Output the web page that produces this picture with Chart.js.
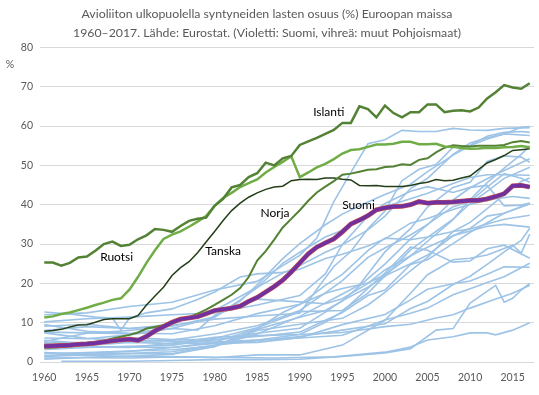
<!DOCTYPE html>
<html>
<head>
<meta charset="utf-8">
<script src="https://cdn.jsdelivr.net/npm/chart.js@4"></script>
<style>
  html, body { margin: 0; padding: 0; background: #fff; }
  #chart { display: block; }
</style>
</head>
<body>
<canvas id="chart" width="539" height="395"></canvas>
<script>
// yearly categories and x tick labels
const years = [1960, 1961, 1962, 1963, 1964, 1965, 1966, 1967, 1968, 1969,
  1970, 1971, 1972, 1973, 1974, 1975, 1976, 1977, 1978, 1979,
  1980, 1981, 1982, 1983, 1984, 1985, 1986, 1987, 1988, 1989,
  1990, 1991, 1992, 1993, 1994, 1995, 1996, 1997, 1998, 1999,
  2000, 2001, 2002, 2003, 2004, 2005, 2006, 2007, 2008, 2009,
  2010, 2011, 2012, 2013, 2014, 2015, 2016, 2017];
const tickYears = [1960, 1965, 1970, 1975, 1980, 1985, 1990, 1995, 2000, 2005, 2010, 2015];

// Nordic countries, one value per year 1960-2017 (%)
const islanti = [25.3, 25.3, 24.5, 25.2, 26.6, 26.8, 28.3, 30.0, 30.6, 29.5,
  29.8, 31.2, 32.2, 33.8, 33.6, 33.1, 34.6, 35.9, 36.4, 36.7,
  39.7, 41.5, 44.4, 45.0, 47.0, 48.0, 50.7, 50.0, 51.8, 52.4,
  55.2, 56.1, 57.0, 58.0, 59.0, 60.8, 60.8, 65.0, 64.3, 62.2,
  65.2, 63.3, 62.2, 63.5, 63.5, 65.5, 65.5, 63.5, 63.9, 64.0,
  63.7, 64.7, 67.0, 68.6, 70.4, 69.8, 69.5, 70.9];
const ruotsi = [11.3, 11.6, 12.2, 12.6, 13.2, 13.8, 14.5, 15.1, 15.8, 16.2,
  18.4, 21.6, 25.2, 28.4, 31.3, 32.4, 33.2, 34.4, 35.7, 37.1,
  39.7, 41.7, 43.0, 44.5, 45.5, 46.4, 48.2, 49.6, 50.9, 52.3,
  47.0, 48.2, 49.5, 50.4, 51.6, 53.0, 53.9, 54.1, 54.7, 55.3,
  55.3, 55.5, 56.0, 56.0, 55.4, 55.4, 55.5, 54.8, 54.7, 54.4,
  54.2, 54.3, 54.5, 54.4, 54.6, 54.7, 54.9, 54.6];
const tanska = [7.8, 8.0, 8.3, 8.9, 9.4, 9.5, 10.1, 10.8, 11.0, 11.0,
  11.0, 11.8, 14.5, 16.8, 19.0, 22.0, 24.0, 25.5, 27.8, 30.5,
  33.2, 36.0, 38.5, 40.4, 41.9, 43.0, 43.9, 44.5, 44.7, 46.1,
  46.4, 46.5, 46.4, 46.8, 46.8, 46.5, 46.3, 44.9, 44.8, 44.9,
  44.6, 44.6, 44.6, 44.9, 45.4, 45.7, 46.4, 46.1, 46.2, 46.8,
  47.3, 49.0, 50.6, 51.5, 52.5, 53.8, 54.0, 54.2];
const norja = [3.7, 3.7, 3.8, 4.0, 4.1, 4.6, 5.0, 5.4, 6.0, 6.4,
  6.9, 7.5, 8.5, 8.9, 9.4, 10.3, 11.0, 11.4, 12.3, 13.3,
  14.5, 15.8, 17.1, 18.8, 21.6, 25.8, 28.2, 31.1, 34.2, 36.4,
  38.6, 41.0, 43.1, 44.6, 46.0, 47.6, 47.9, 48.4, 48.9, 49.0,
  49.6, 49.7, 50.3, 50.1, 51.4, 51.8, 53.3, 54.5, 55.1, 54.9,
  54.8, 55.0, 55.0, 55.0, 55.2, 55.9, 56.2, 55.8];
const suomi = [4.0, 4.1, 4.2, 4.3, 4.5, 4.6, 4.8, 5.1, 5.4, 5.6,
  5.8, 5.5, 6.5, 7.9, 9.0, 10.1, 10.9, 11.2, 11.5, 12.3,
  13.1, 13.4, 13.7, 14.2, 15.4, 16.4, 17.8, 19.2, 20.8, 22.9,
  25.2, 27.5, 29.2, 30.3, 31.3, 33.1, 35.1, 36.1, 37.2, 38.7,
  39.2, 39.5, 39.6, 40.0, 40.8, 40.4, 40.6, 40.6, 40.7, 40.9,
  41.1, 41.1, 41.5, 42.1, 42.8, 44.8, 44.9, 44.5];

// other European countries, [year, %]
const france = [[1960, 6.1], [1965, 5.9], [1970, 6.9], [1975, 8.5], [1980, 11.4], [1983, 15.5], [1985, 19.6], [1988, 26.3], [1990, 30.1], [1993, 34.9], [1995, 37.6], [1998, 40.7], [2000, 42.6], [2003, 45.2], [2005, 48.4], [2008, 52.6], [2010, 55.0], [2012, 56.7], [2014, 58.0], [2016, 59.7], [2017, 59.9]];
const estonia = [[1960, 12.0], [1965, 12.5], [1970, 14.1], [1975, 15.2], [1980, 18.3], [1985, 20.5], [1988, 24.5], [1990, 27.1], [1992, 31.5], [1994, 40.8], [1996, 48.2], [1998, 55.5], [2000, 56.5], [2002, 58.9], [2004, 58.6], [2006, 58.6], [2008, 59.4], [2010, 59.0], [2012, 58.9], [2014, 59.4], [2017, 59.6]];
const bulgaria = [[1960, 8.0], [1965, 9.0], [1970, 8.5], [1975, 9.3], [1980, 10.9], [1985, 11.7], [1990, 12.4], [1992, 18.5], [1994, 24.3], [1996, 28.1], [1998, 33.9], [2000, 38.4], [2002, 46.1], [2004, 49.0], [2006, 50.2], [2008, 54.6], [2010, 55.1], [2012, 57.4], [2014, 58.4], [2016, 58.6], [2017, 58.4]];
const slovenia = [[1960, 9.1], [1965, 9.6], [1970, 8.5], [1975, 9.5], [1978, 12.2], [1980, 13.1], [1985, 19.0], [1988, 22.6], [1990, 24.5], [1993, 27.9], [1995, 29.8], [1998, 33.6], [2000, 37.1], [2003, 44.1], [2005, 46.7], [2008, 52.8], [2010, 55.7], [2012, 57.0], [2014, 58.0], [2017, 57.6]];
const portugal = [[1960, 9.5], [1965, 7.8], [1970, 7.3], [1975, 7.2], [1980, 9.2], [1985, 12.3], [1990, 14.7], [1993, 17.5], [1995, 18.7], [1998, 20.1], [2000, 22.2], [2003, 26.9], [2005, 30.7], [2008, 36.2], [2010, 41.3], [2012, 45.6], [2014, 49.3], [2016, 52.8], [2017, 54.9]];
const netherlands = [[1960, 1.4], [1965, 1.8], [1970, 2.1], [1975, 2.1], [1980, 4.1], [1985, 8.3], [1990, 11.4], [1993, 13.1], [1995, 15.5], [1998, 21.2], [2000, 24.9], [2003, 31.3], [2005, 34.9], [2008, 41.2], [2010, 44.3], [2012, 46.6], [2014, 48.7], [2017, 51.7]];
const belgium = [[1960, 2.1], [1965, 2.4], [1970, 2.8], [1975, 3.1], [1980, 4.1], [1985, 7.1], [1990, 11.6], [1995, 17.3], [1997, 19.6], [2000, 28.0], [2003, 33.9], [2005, 39.4], [2008, 44.4], [2010, 45.7], [2012, 51.0], [2014, 52.4], [2016, 52.1], [2017, 50.8]];
const uk = [[1960, 5.2], [1965, 7.3], [1970, 8.0], [1975, 9.1], [1980, 11.5], [1983, 15.8], [1985, 18.9], [1988, 25.1], [1990, 27.9], [1993, 31.8], [1995, 33.5], [1998, 37.6], [2000, 39.5], [2003, 41.5], [2005, 42.9], [2008, 45.4], [2010, 46.9], [2012, 47.6], [2014, 47.6], [2017, 47.5]];
const czech = [[1960, 4.9], [1965, 4.9], [1970, 5.4], [1975, 4.5], [1980, 5.6], [1985, 7.3], [1990, 8.6], [1993, 12.7], [1995, 15.6], [1998, 19.0], [2000, 21.8], [2003, 28.5], [2005, 31.7], [2008, 36.3], [2010, 40.3], [2012, 43.4], [2014, 46.7], [2017, 49.5]];
const hungary = [[1960, 5.5], [1965, 4.7], [1970, 5.4], [1975, 5.6], [1980, 7.1], [1985, 9.2], [1990, 13.1], [1993, 17.6], [1995, 20.7], [1998, 26.6], [2000, 29.0], [2003, 32.3], [2005, 35.0], [2008, 39.5], [2010, 40.8], [2012, 44.5], [2014, 47.9], [2016, 46.7], [2017, 45.7]];
const spain = [[1960, 2.3], [1965, 1.7], [1970, 1.4], [1975, 2.0], [1980, 3.9], [1985, 8.0], [1990, 9.6], [1995, 11.1], [1998, 14.5], [2000, 17.7], [2003, 23.2], [2005, 26.6], [2008, 33.2], [2010, 35.5], [2012, 39.0], [2014, 42.5], [2016, 45.9], [2017, 46.8]];
const latvia = [[1960, 10.2], [1965, 11.0], [1970, 11.4], [1975, 12.0], [1980, 12.5], [1985, 14.5], [1990, 16.9], [1993, 22.4], [1995, 29.9], [1998, 37.1], [2000, 40.3], [2003, 43.4], [2005, 44.6], [2008, 43.1], [2010, 44.4], [2012, 44.9], [2014, 39.7], [2016, 39.9], [2017, 40.4]];
const austria = [[1960, 12.7], [1963, 12.2], [1966, 11.4], [1968, 11.2], [1969, 8.1], [1970, 11.2], [1972, 12.5], [1975, 13.5], [1978, 15.9], [1980, 17.8], [1983, 21.6], [1985, 22.4], [1988, 22.8], [1990, 23.6], [1993, 26.3], [1995, 27.4], [1998, 29.5], [2000, 31.3], [2003, 35.3], [2005, 36.5], [2008, 38.8], [2010, 40.1], [2013, 41.5], [2015, 42.1], [2017, 41.6]];
const germany = [[1960, 7.6], [1965, 7.4], [1970, 7.2], [1972, 7.9], [1975, 8.5], [1978, 8.1], [1980, 11.9], [1985, 16.0], [1990, 15.3], [1993, 14.8], [1995, 16.1], [1998, 20.0], [2000, 23.4], [2003, 27.0], [2005, 29.2], [2008, 32.1], [2010, 33.3], [2012, 34.5], [2014, 35.0], [2017, 34.3]];
const ireland = [[1960, 1.6], [1965, 2.2], [1970, 2.7], [1975, 3.7], [1980, 5.0], [1985, 8.5], [1988, 12.6], [1990, 14.6], [1993, 19.5], [1995, 22.3], [1998, 28.3], [2000, 31.5], [2003, 31.1], [2005, 31.8], [2008, 33.2], [2010, 33.8], [2012, 35.1], [2014, 36.3], [2017, 37.3]];
const luxembourg = [[1960, 3.2], [1965, 3.7], [1970, 4.0], [1975, 4.2], [1980, 6.0], [1985, 8.7], [1990, 12.8], [1995, 13.1], [1998, 17.5], [2000, 21.9], [2003, 25.0], [2005, 27.2], [2008, 32.1], [2010, 34.0], [2012, 37.1], [2014, 37.8], [2017, 40.4]];
const slovakia = [[1960, 4.7], [1965, 5.0], [1970, 6.2], [1975, 5.7], [1980, 5.7], [1985, 6.5], [1990, 7.6], [1993, 10.6], [1995, 12.6], [1998, 16.9], [2000, 18.3], [2003, 24.8], [2005, 26.0], [2008, 30.1], [2010, 33.0], [2012, 35.4], [2014, 37.8], [2017, 40.2]];
const italy = [[1960, 2.4], [1965, 2.0], [1970, 2.2], [1975, 2.6], [1980, 4.3], [1985, 5.4], [1990, 6.5], [1995, 8.1], [2000, 9.7], [2003, 13.6], [2005, 15.4], [2008, 19.7], [2010, 21.8], [2012, 24.8], [2014, 28.0], [2016, 30.9], [2017, 34.0]];
const poland = [[1960, 4.5], [1965, 4.2], [1970, 5.0], [1975, 4.7], [1980, 4.8], [1985, 5.0], [1990, 6.2], [1995, 9.5], [2000, 12.1], [2003, 15.8], [2005, 18.5], [2008, 19.9], [2010, 20.6], [2012, 22.3], [2014, 24.2], [2017, 24.1]];
const malta = [[1960, 0.7], [1965, 1.2], [1970, 1.5], [1975, 1.4], [1980, 1.1], [1985, 1.8], [1990, 1.8], [1995, 4.3], [2000, 10.6], [2003, 17.5], [2005, 22.2], [2008, 26.0], [2010, 26.4], [2012, 27.2], [2015, 29.7], [2016, 27.7], [2017, 32.5]];
const lithuania = [[1960, 4.0], [1965, 3.8], [1970, 3.7], [1975, 4.8], [1980, 6.3], [1985, 6.7], [1990, 7.0], [1993, 10.1], [1995, 12.8], [1998, 18.7], [2000, 22.6], [2003, 29.2], [2005, 28.4], [2008, 25.4], [2010, 25.7], [2012, 28.8], [2014, 29.7], [2017, 26.4]];
const switzerland = [[1960, 3.8], [1965, 3.9], [1970, 3.8], [1975, 3.7], [1980, 4.7], [1985, 5.6], [1990, 6.1], [1995, 6.8], [2000, 10.7], [2003, 12.4], [2005, 13.7], [2008, 17.1], [2010, 18.6], [2012, 20.2], [2014, 21.7], [2017, 25.1]];
const croatia = [[1960, 7.4], [1965, 6.0], [1970, 5.4], [1975, 5.3], [1980, 5.1], [1985, 5.6], [1990, 7.0], [1995, 7.5], [2000, 9.0], [2003, 9.6], [2006, 11.2], [2008, 12.0], [2010, 13.7], [2013, 16.0], [2015, 17.5], [2017, 19.5]];
const cyprus = [[1962, 0.2], [1965, 0.2], [1970, 0.2], [1975, 0.4], [1980, 0.6], [1985, 0.6], [1990, 0.7], [1995, 1.4], [2000, 2.3], [2003, 3.4], [2006, 8.1], [2008, 8.5], [2010, 15.0], [2013, 19.5], [2014, 15.2], [2015, 16.2], [2016, 18.3], [2017, 20.0]];
const greece = [[1960, 1.0], [1965, 1.1], [1970, 1.0], [1975, 1.3], [1980, 1.2], [1987, 1.0], [1994, 1.3], [2000, 2.5], [2003, 3.8], [2005, 5.6], [2008, 6.4], [2010, 7.4], [2012, 7.4], [2013, 6.9], [2015, 8.1], [2017, 10.0]];

const otherCountries = [france, estonia, bulgaria, slovenia, portugal, netherlands, belgium, uk,
  czech, hungary, spain, latvia, austria, germany, ireland, luxembourg, slovakia, italy,
  poland, malta, lithuania, switzerland, croatia, cyprus, greece];

// in-chart labels, anchored in data coordinates
const labelTexts = ['Islanti', 'Ruotsi', 'Tanska', 'Norja', 'Suomi'];
const labelYears = [1993.4, 1968.5, 1981.0, 1987.1, 1996.9];
const labelValues = [63.5, 26.6, 28.2, 37.8, 39.8];

const titleLines = [
  'Avioliiton ulkopuolella syntyneiden lasten osuus (%) Euroopan maissa',
  '1960\u20132017. Lähde: Eurostat. (Violetti: Suomi, vihreä: muut Pohjoismaat)'
];

const FONT = 'Lato, "Open Sans", sans-serif';

const yearly = (values) => values.map((v, i) => ({ x: years[i], y: v }));
const pairs = (rows) => rows.map(([x, y]) => ({ x, y }));

const line = (data, color, width, order) => ({
  data,
  borderColor: color,
  borderWidth: width,
  pointRadius: 0,
  tension: 0,
  fill: false,
  order,
});

const datasets = [
  line(yearly(suomi), '#7030a0', 3.6, 0),
  line(yearly(suomi), '#c0504d', 4.8, 1),
  line(yearly(islanti), '#548235', 2.5, 2),
  line(yearly(ruotsi), '#70ad47', 2.5, 3),
  line(yearly(norja), '#548235', 2, 4),
  line(yearly(tanska), '#243f17', 1.5, 5),
  ...otherCountries.map(c => line(pairs(c), '#9dc3e6', 1.6, 10)),
];

const seriesLabels = {
  id: 'seriesLabels',
  afterDatasetsDraw(chart) {
    const { ctx, scales: { x, y } } = chart;
    ctx.save();
    ctx.font = '12px ' + FONT;
    ctx.fillStyle = '#000';
    ctx.textAlign = 'center';
    ctx.textBaseline = 'middle';
    labelTexts.forEach((t, i) => {
      ctx.fillText(t, x.getPixelForValue(labelYears[i]), y.getPixelForValue(labelValues[i]));
    });
    // axis unit
    ctx.font = '10.5px ' + FONT;
    ctx.fillStyle = '#595959';
    ctx.fillText('%', 10, y.getPixelForValue(75.5));
    ctx.restore();
  }
};

new Chart(document.getElementById('chart'), {
  type: 'line',
  data: { datasets },
  plugins: [seriesLabels],
  options: {
    responsive: false,
    animation: false,
    events: [],
    layout: { padding: { left: 0, right: 5, top: 0, bottom: 0 } },
    plugins: {
      legend: { display: false },
      tooltip: { enabled: false },
      title: {
        display: true,
        text: titleLines,
        color: '#595959',
        font: { family: FONT, size: 12.3, weight: 'normal', lineHeight: 1.52 },
        padding: { top: 5, bottom: 5 },
      },
    },
    scales: {
      x: {
        type: 'linear',
        min: 1959.5,
        max: 2017.5,
        grid: { display: false },
        border: { display: false },
        afterBuildTicks: (scale) => { scale.ticks = tickYears.map(v => ({ value: v })); },
        afterFit: (scale) => { scale.height = 33; },
        ticks: {
          autoSkip: false,
          maxRotation: 0,
          padding: 1,
          color: '#595959',
          font: { family: FONT, size: 10.5 },
          callback: (v) => String(v),
        },
      },
      y: {
        min: 0,
        max: 80,
        grid: { color: '#d9d9d9', lineWidth: 1, drawTicks: false },
        border: { display: false },
        afterFit: (scale) => { scale.width = 40; },
        ticks: {
          stepSize: 10,
          padding: 7,
          color: '#595959',
          font: { family: FONT, size: 10.5 },
        },
      },
    },
  },
});
</script>
</body>
</html>
